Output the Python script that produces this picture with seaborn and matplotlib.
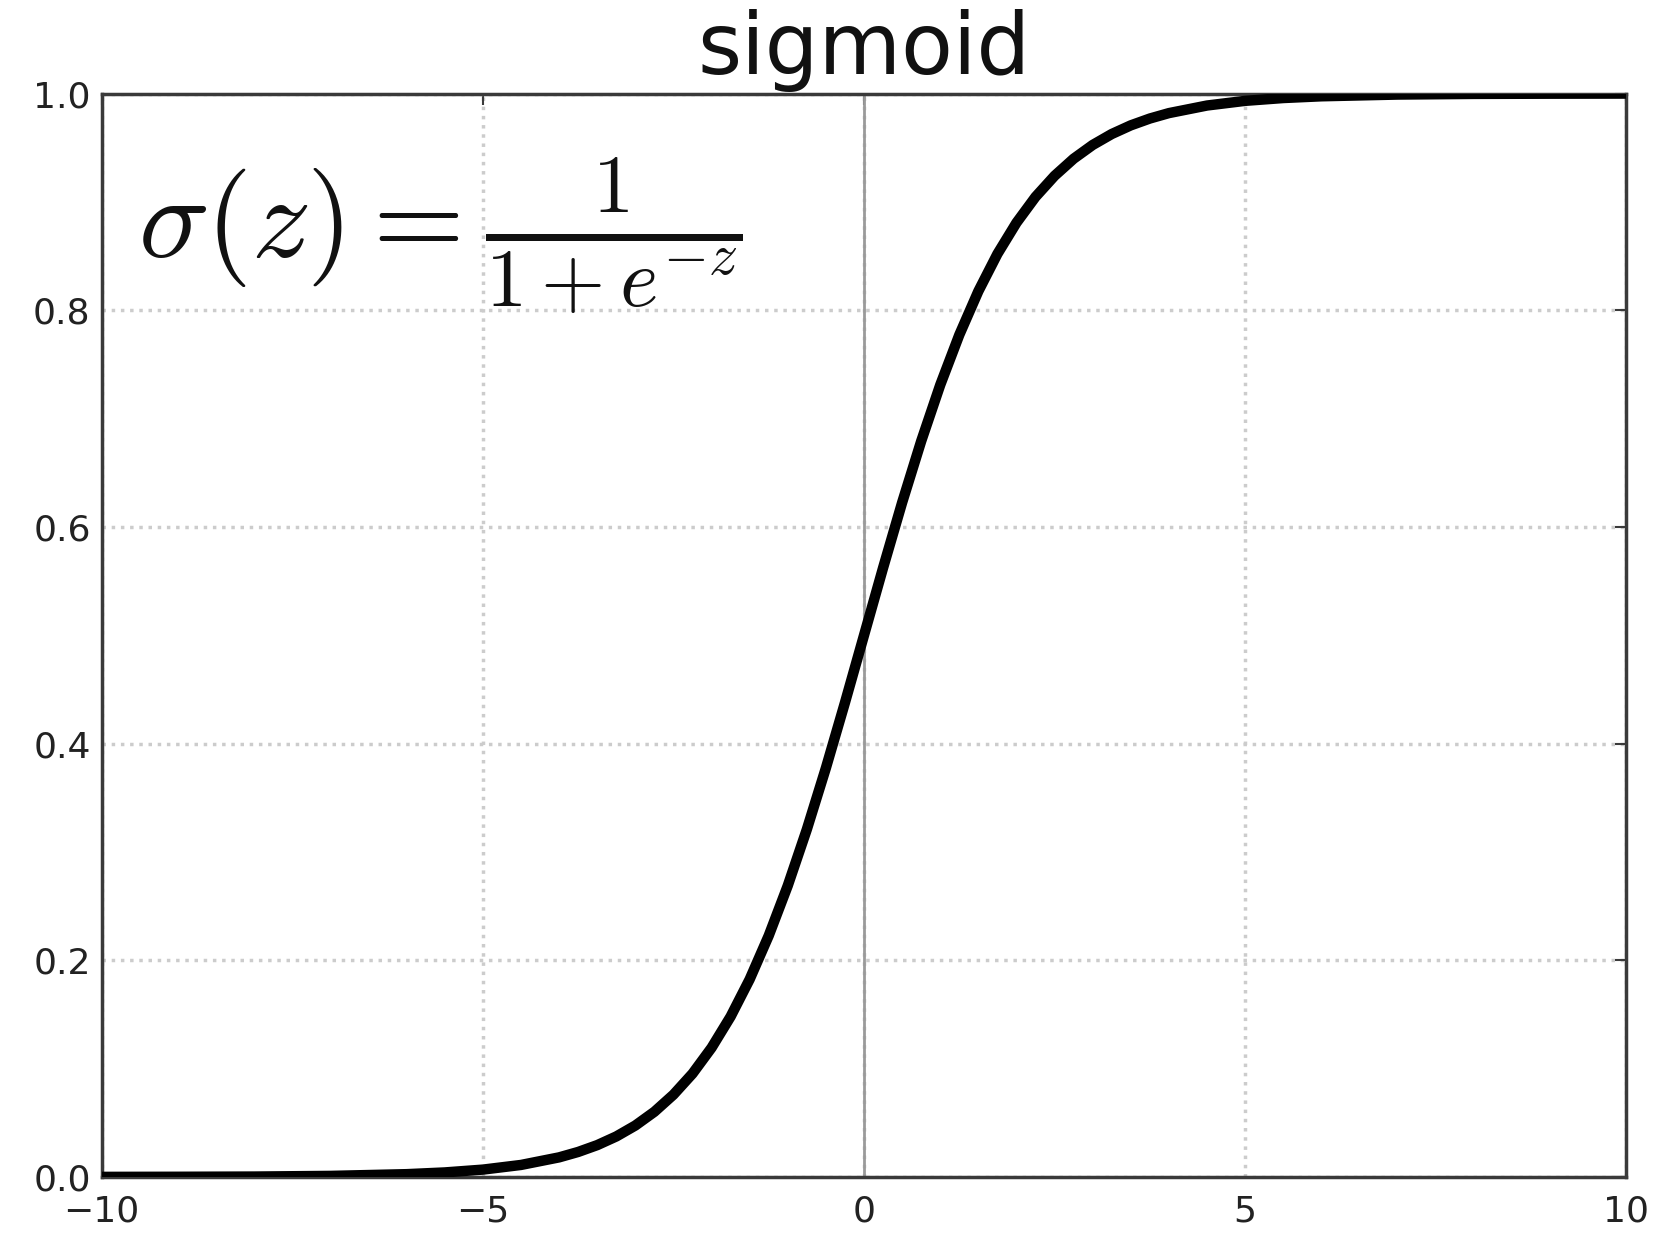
import matplotlib
matplotlib.use("Agg")
import matplotlib.pyplot as plt
import seaborn as sns
import pandas as pd

# Values
z_values = [-10, -9, -8, -7, -6, -5.5, -5, -4.5, -4,
            -3.75, -3.5, -3.25, -3, -2.75, -2.5, -2.25, -2,
            -1.75, -1.5, -1.25, -1, -0.75, -0.5, -0.25, 0,
            0.25, 0.5, 0.75, 1, 1.25, 1.5, 1.75, 2,
            2.25, 2.5, 2.75, 3, 3.25, 3.5, 3.75, 4,
            4.5, 5, 5.5, 6, 7, 8, 9, 10]
sigma_values = [0.0000, 0.0001, 0.0003, 0.0009, 0.0025, 0.0041, 0.0067, 0.0110, 0.0180,
                0.0230, 0.0293, 0.0373, 0.0474, 0.0601, 0.0759, 0.0953, 0.1192,
                0.1480, 0.1824, 0.2227, 0.2689, 0.3208, 0.3775, 0.4378, 0.5000,
                0.5622, 0.6225, 0.6792, 0.7311, 0.7773, 0.8176, 0.8520, 0.8808,
                0.9047, 0.9241, 0.9399, 0.9526, 0.9627, 0.9707, 0.9770, 0.9820,
                0.9890, 0.9933, 0.9959, 0.9975, 0.9991, 0.9997, 0.9999, 1.0000]
x_ticks = [-10, -5, 0, 5, 10]
y_ticks = [0.0, 0.2, 0.4, 0.6, 0.8, 1.0]
title_text = "sigmoid"
formula_text = r"$\sigma(z)=\frac{1}{1+e^{-z}}$"

df = pd.DataFrame({"z": z_values, "sigma": sigma_values})

sns.set_theme(style="white")
plt.rcParams["font.family"] = ["DejaVu Sans"]
plt.rcParams["mathtext.fontset"] = "cm"

fig = plt.figure(figsize=(16.68, 12.48), dpi=100)
ax = fig.add_axes([0.061, 0.057, 0.914, 0.868])

ax.axvline(0, color="#9a9a9a", lw=2.0, zorder=1)
sns.lineplot(data=df, x="z", y="sigma", color="black", lw=7.5, ax=ax, zorder=3)

ax.set_xlim(-10, 10)
ax.set_ylim(0, 1.0)
ax.set_xticks(x_ticks)
ax.set_yticks(y_ticks)
ax.set_yticklabels([f"{v:.1f}" for v in y_ticks])
ax.set_xticklabels([str(v).replace("-", "\u2212") for v in x_ticks])
ax.set_xlabel("")
ax.set_ylabel("")

ax.grid(True, linestyle=":", color="#cccccc", lw=2.5)
ax.set_axisbelow(True)
for s in ax.spines.values():
    s.set_color("#3a3a3a")
    s.set_linewidth(2.5)

ax.tick_params(axis="both", direction="in", length=8, width=1.5, colors="#3a3a3a",
               labelsize=26, labelcolor="#222222", top=True, right=True)
ax.tick_params(axis="x", pad=13)
ax.tick_params(axis="y", pad=8)

ax.set_title(title_text, fontsize=61, color="#111111", pad=14)
ax.text(0.024, 0.869, formula_text, transform=ax.transAxes, fontsize=85,
        va="center", ha="left", color="#111111")

fig.savefig("out.png", dpi=100, facecolor="white")
